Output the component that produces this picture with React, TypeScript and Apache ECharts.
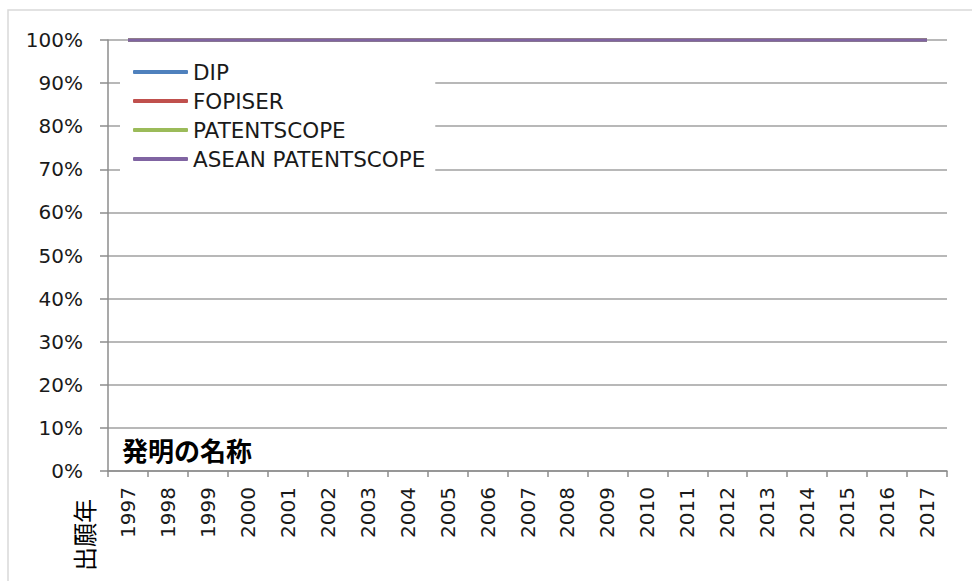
import React, { useEffect, useRef } from "react";
import * as echarts from "echarts";

const years = ["1997","1998","1999","2000","2001","2002","2003","2004","2005","2006","2007","2008","2009","2010","2011","2012","2013","2014","2015","2016","2017"];
const seriesNames = ["DIP", "FOPISER", "PATENTSCOPE", "ASEAN PATENTSCOPE"];
const seriesColors = ["#4f81bd", "#c0504d", "#9bbb59", "#8064a2"];
const dipValues = [100,100,100,100,100,100,100,100,100,100,100,100,100,100,100,100,100,100,100,100,100];
const fopiserValues = [100,100,100,100,100,100,100,100,100,100,100,100,100,100,100,100,100,100,100,100,100];
const patentscopeValues = [100,100,100,100,100,100,100,100,100,100,100,100,100,100,100,100,100,100,100,100,100];
const aseanValues = [100,100,100,100,100,100,100,100,100,100,100,100,100,100,100,100,100,100,100,100,100];
const allValues = [dipValues, fopiserValues, patentscopeValues, aseanValues];
const innerLabel = "発明の名称";
const xAxisTitle = "出願年";

const LAT = "DejaVu Sans, Liberation Sans, sans-serif";
const CJK = "Noto Sans CJK JP, sans-serif";

export default function App() {
  const ref = useRef<HTMLDivElement>(null);
  useEffect(() => {
    document.body.style.margin = "0";
    const chart = echarts.init(ref.current!, null, { renderer: "svg" });
    chart.setOption({
      animation: false,
      backgroundColor: "#ffffff",
      grid: { left: 108, right: 25, top: 40, bottom: 110 },
      legend: {
        orient: "vertical",
        left: 120,
        top: 52,
        padding: [9, 10, 5, 13],
        itemGap: 7,
        itemWidth: 55,
        itemHeight: 4,
        icon: "roundRect",
        backgroundColor: "#ffffff",
        data: seriesNames,
        textStyle: { fontFamily: LAT, fontSize: 21.5, color: "#1a1a1a", padding: [0, 0, 0, 0] },
      },
      xAxis: {
        type: "category",
        data: years,
        boundaryGap: true,
        axisLine: { lineStyle: { color: "#8c8c8c", width: 1.5 } },
        axisTick: { show: true, length: 6, inside: false, lineStyle: { color: "#8c8c8c", width: 1.5 } },
        axisLabel: { rotate: 90, margin: 16, fontFamily: LAT, fontSize: 20, color: "#1a1a1a", interval: 0 },
        splitLine: { show: false },
      },
      yAxis: {
        type: "value",
        min: 0,
        max: 100,
        interval: 10,
        axisLine: { show: true, lineStyle: { color: "#8c8c8c", width: 1.5 } },
        axisTick: { show: true, length: 8, lineStyle: { color: "#8c8c8c", width: 1.5 } },
        axisLabel: { formatter: "{value}%", margin: 25, fontFamily: LAT, fontSize: 20, color: "#1a1a1a" },
        splitLine: { show: true, lineStyle: { color: "#a0a0a0", width: 1.5 } },
      },
      series: seriesNames.map((name, i) => ({
        name,
        type: "line",
        data: allValues[i],
        symbol: "none",
        color: seriesColors[i],
        lineStyle: { color: seriesColors[i], width: 3.5 },
      })),
      graphic: [
        {
          type: "rect",
          z: -10,
          silent: true,
          shape: { x: 8, y: 10, width: 1000, height: 700 },
          style: { fill: "none", stroke: "#d9d9d9", lineWidth: 1.5 },
        },
        {
          type: "text",
          x: 122,
          y: 449,
          style: { text: innerLabel, font: `bold 26px ${CJK}`, fill: "#000000", verticalAlign: "middle", align: "left" },
        },
        {
          type: "text",
          x: 83,
          y: 535,
          rotation: Math.PI / 2,
          style: { text: xAxisTitle, font: `24px ${CJK}`, fill: "#000000", verticalAlign: "middle", align: "center" },
        },
      ],
    });
    return () => chart.dispose();
  }, []);
  return <div ref={ref} style={{ width: 972, height: 581 }} />;
}
